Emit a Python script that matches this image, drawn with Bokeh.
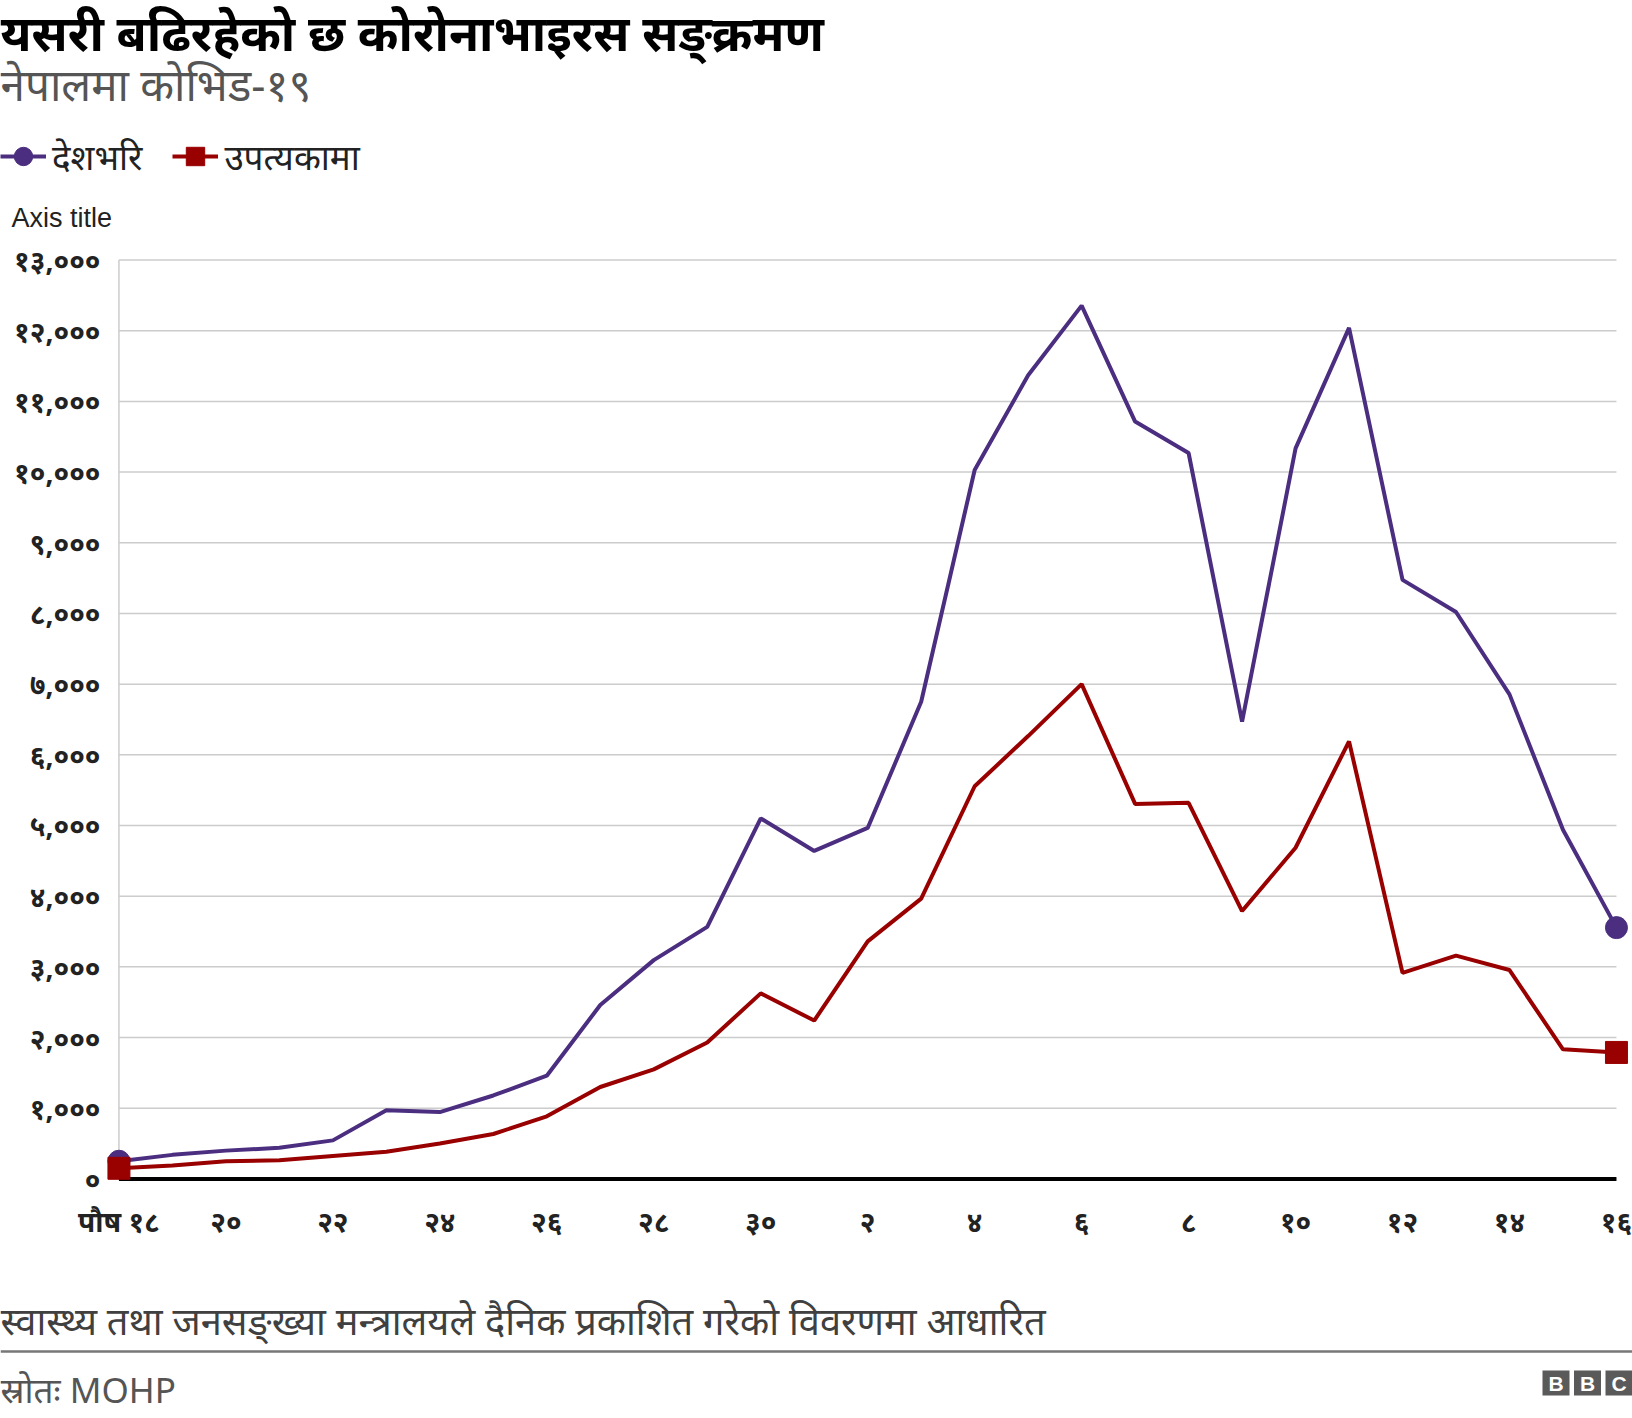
from bokeh.plotting import figure
from bokeh.models import Range1d, Legend, LegendItem, FixedTicker
from bokeh.layouts import column
from bokeh.core.properties import value
from bokeh.embed import file_html
from bokeh.resources import INLINE

# ---------------- data ----------------
day_labels = ["पौष १८", "१९", "२०", "२१", "२२", "२३", "२४", "२५", "२६", "२७", "२८", "२९", "३०",
              "१", "२", "३", "४", "५", "६", "७", "८", "९", "१०", "११", "१२", "१३", "१४", "१५", "१६"]
nationwide = [250, 340, 400, 440, 545, 970, 945, 1180, 1460, 2460, 3095, 3565, 5100, 4640, 4965,
              6750, 10030, 11370, 12355, 10715, 10270, 6470, 10335, 12040, 8475, 8020, 6855, 4940, 3555]
valley = [150, 190, 250, 265, 325, 385, 500, 635, 885, 1300, 1550, 1930, 2625, 2240, 3360,
          3965, 5555, 6265, 7000, 5305, 5320, 3790, 4685, 6190, 2915, 3158, 2955, 1833, 1789]
series_names = ["देशभरि", "उपत्यकामा"]
y_ticks = [0, 1000, 2000, 3000, 4000, 5000, 6000, 7000, 8000, 9000, 10000, 11000, 12000, 13000]
y_tick_labels = ["०", "१,०००", "२,०००", "३,०००", "४,०००", "५,०००", "६,०००", "७,०००", "८,०००",
                 "९,०००", "१०,०००", "११,०००", "१२,०००", "१३,०००"]
title_text = "यसरी बढिरहेको छ कोरोनाभाइरस सङ्क्रमण"
subtitle_text = "नेपालमा कोभिड-१९"
axis_title_text = "Axis  title"
note_text = "स्वास्थ्य तथा जनसङ्ख्या मन्त्रालयले दैनिक प्रकाशित गरेको विवरणमा आधारित"
source_text = "स्रोतः MOHP"
logo_letters = ["B", "B", "C"]

x = list(range(len(day_labels)))
x_ticks = x[::2]
x_tick_labels = day_labels[::2]

PURPLE = "#4b2e80"
RED = "#990000"
FONT = "Noto Sans"
W = 1632
H_HEAD, H_MAIN, H_FOOT = 240, 1050, 128
LW = 4


def blank(h):
    f = figure(width=W, height=h, output_backend="svg", toolbar_location=None,
               x_range=Range1d(0, W), y_range=Range1d(h, 0),
               x_axis_type=None, y_axis_type=None,
               min_border_left=0, min_border_right=0, min_border_top=0, min_border_bottom=0)
    f.outline_line_color = None
    f.grid.visible = False
    f.frame_align = False
    return f


# ---------------- header ----------------
head = blank(H_HEAD)
head.text(x=[0], y=[31], text=[title_text], text_font=value(FONT), text_font_size=value("49px"),
          text_font_style="bold", text_color="#000000", text_baseline="middle")
head.text(x=[0], y=[83], text=[subtitle_text], text_font=value(FONT), text_font_size=value("44px"),
          text_color="#555555", text_baseline="middle")
head.text(x=[11], y=[217], text=[axis_title_text], text_font=value("Liberation Sans"),
          text_font_size=value("27px"), text_color="#222222", text_baseline="middle")
# legend-only renderers (their points lie outside the visible header area)
hl1 = head.line(x=[-60, -50], y=[-60, -60], line_color=PURPLE, line_width=LW)
hs1 = head.scatter(x=[-60], y=[-60], marker="circle", size=22, fill_color=PURPLE, line_color=PURPLE)
hl2 = head.line(x=[-60, -50], y=[-60, -60], line_color=RED, line_width=LW)
hs2 = head.scatter(x=[-60], y=[-60], marker="square", size=22, fill_color=RED, line_color=RED)
legend = Legend(items=[LegendItem(label=series_names[0], renderers=[hl1, hs1]),
                       LegendItem(label=series_names[1], renderers=[hl2, hs2])],
                orientation="horizontal", location=(0, 58),
                glyph_width=46, glyph_height=52, label_standoff=6, spacing=30,
                padding=0, margin=0, border_line_color=None, background_fill_alpha=0,
                label_text_font=FONT, label_text_font_size="35px", label_text_color="#222222",
                label_text_baseline="middle")
head.add_layout(legend)

# ---------------- main chart ----------------
p = figure(width=W, height=H_MAIN, output_backend="svg", toolbar_location=None,
           x_range=Range1d(-0.27, 28.30), y_range=Range1d(-150, 13050),
           min_border_left=104, min_border_right=0, min_border_top=16, min_border_bottom=101)
p.outline_line_color = None
p.xgrid.visible = False
p.ygrid.visible = False
p.frame_align = False

p.segment(x0=[x[0]] * len(y_ticks), x1=[x[-1]] * len(y_ticks), y0=y_ticks, y1=y_ticks,
          line_color="#cccccc", line_width=1.5)
p.segment(x0=[x[0]], x1=[x[0]], y0=[y_ticks[0]], y1=[y_ticks[-1]], line_color="#cccccc", line_width=1.5)
p.segment(x0=[x[0]], x1=[x[-1]], y0=[0], y1=[0], line_color="black", line_width=4)

p.line(x, nationwide, line_color=PURPLE, line_width=LW)
p.line(x, valley, line_color=RED, line_width=LW)
p.scatter([x[0], x[-1]], [nationwide[0], nationwide[-1]], marker="circle", size=22,
          fill_color=PURPLE, line_color=PURPLE)
p.scatter([x[0], x[-1]], [valley[0], valley[-1]], marker="square", size=22,
          fill_color=RED, line_color=RED)

p.yaxis.ticker = FixedTicker(ticks=y_ticks)
p.yaxis.major_label_overrides = dict(zip(y_ticks, y_tick_labels))
p.yaxis.axis_line_color = None
p.yaxis.major_tick_line_color = None
p.yaxis.minor_tick_line_color = None
p.yaxis.major_label_standoff = -2
p.yaxis.major_label_text_font = FONT
p.yaxis.major_label_text_font_size = "28px"
p.yaxis.major_label_text_font_style = "bold"
p.yaxis.major_label_text_color = "#222222"

p.xaxis.ticker = FixedTicker(ticks=x_ticks)
p.xaxis.major_label_overrides = dict(zip(x_ticks, x_tick_labels))
p.xaxis.axis_line_color = None
p.xaxis.major_tick_line_color = None
p.xaxis.minor_tick_line_color = None
p.xaxis.major_label_standoff = 6
p.xaxis.major_label_text_font = FONT
p.xaxis.major_label_text_font_size = "28px"
p.xaxis.major_label_text_font_style = "bold"
p.xaxis.major_label_text_color = "#222222"

# ---------------- footer ----------------
foot = blank(H_FOOT)
foot.text(x=[0], y=[29], text=[note_text], text_font=value(FONT), text_font_size=value("38px"),
          text_color="#404040", text_baseline="middle")
foot.segment(x0=[0], x1=[W], y0=[61], y1=[61], line_color="#777777", line_width=2.5)
foot.text(x=[0], y=[99], text=[source_text], text_font=value(FONT), text_font_size=value("35px"),
          text_color="#555555", text_baseline="middle")
logo_x = [1555.5, 1587, 1618.5]
foot.rect(x=logo_x, y=[92.5] * 3, width=27, height=25, fill_color="#5a5a5a", line_color=None)
foot.text(x=logo_x, y=[93] * 3, text=logo_letters, text_font=value("Liberation Sans"),
          text_font_size=value("21px"), text_font_style="bold", text_color="white",
          text_align="center", text_baseline="middle")

layout = column(head, p, foot, spacing=0)
open("out.html", "w").write(file_html(layout, INLINE))
